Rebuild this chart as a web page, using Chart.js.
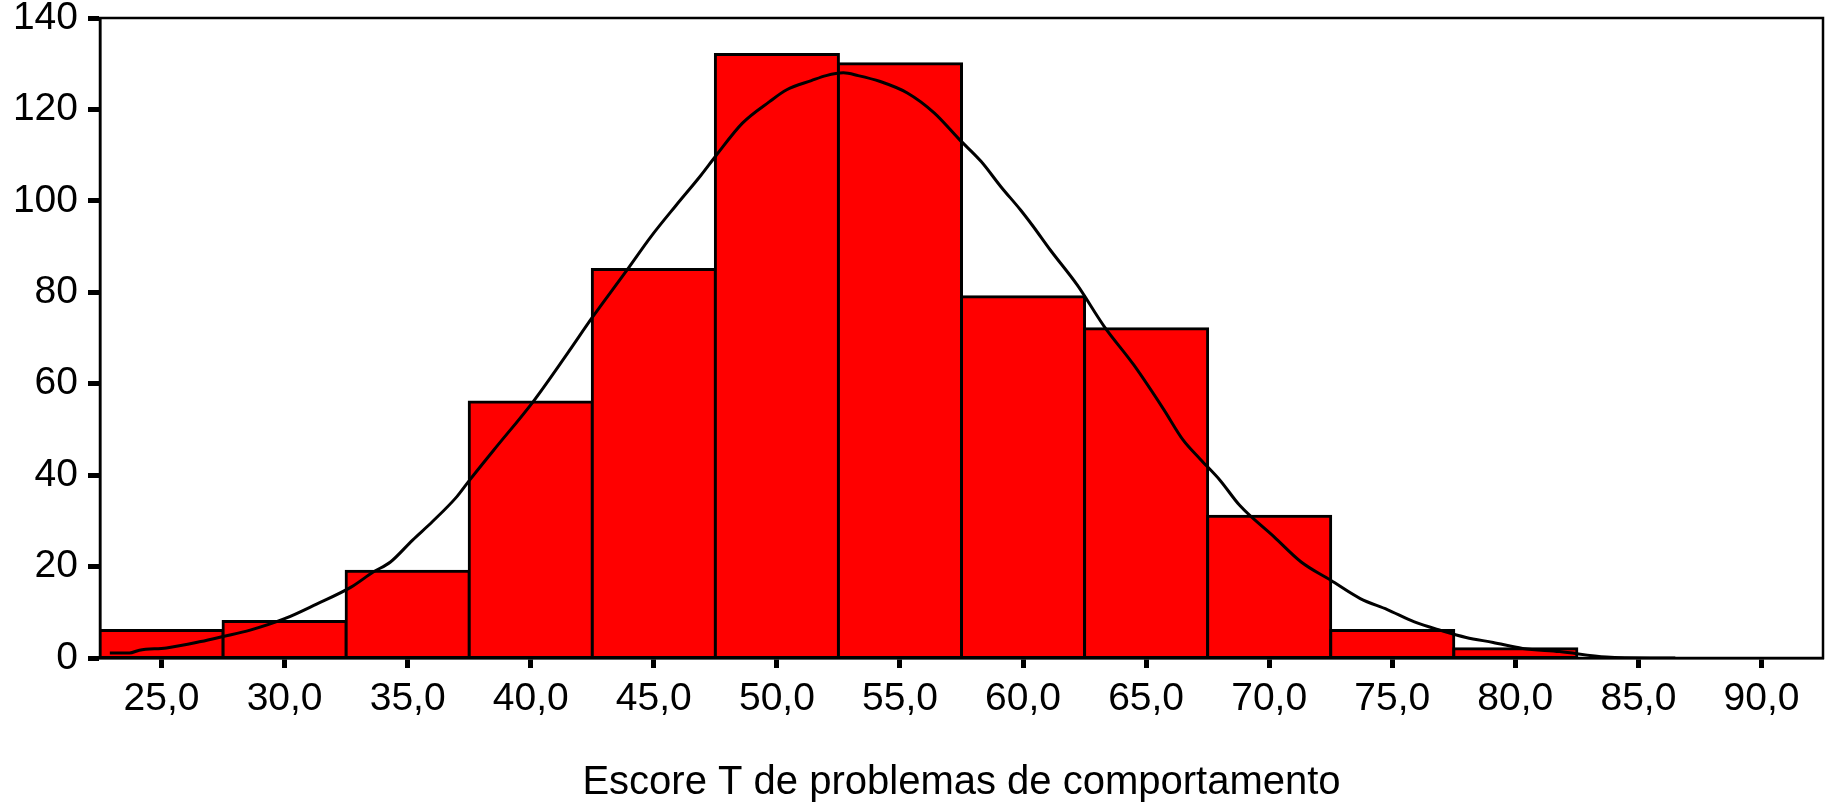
<!DOCTYPE html>
<html><head><meta charset="utf-8">
<script src="https://cdn.jsdelivr.net/npm/chart.js@4"></script>
<style>html,body{margin:0;padding:0;background:#fff}#c{display:block}</style>
</head><body>
<canvas id="c" width="1834" height="805"></canvas>
<script>
// Histogram bins (centres) and frequencies
const binCenters = [25, 30, 35, 40, 45, 50, 55, 60, 65, 70, 75, 80];
const binCounts  = [6, 8, 19, 56, 85, 132, 130, 79, 72, 31, 6, 2];

// Fitted normal curve
const curveX = [22.9, 23.7, 24.1, 25.2, 26.6, 27.5, 28.6, 30.0, 31.3, 32.7, 33.6, 34.3, 35.2, 36.0, 37.0, 37.5, 38.5, 40.1, 41.5, 42.5, 43.9, 44.9, 45.9, 46.9, 47.5, 48.6, 49.7, 50.4, 51.4, 52.0, 52.7, 53.3, 54.2, 55.3, 56.4, 57.4, 58.3, 59.1, 59.9, 60.4, 61.1, 62.2, 63.3, 64.5, 65.7, 66.5, 67.2, 68.0, 68.8, 70.2, 71.3, 72.5, 73.7, 74.8, 75.9, 77.0, 78.0, 79.1, 80.3, 81.8, 83.7, 85.5, 86.5];
const curveY = [1.1, 1.1, 1.7, 2.2, 3.6, 4.7, 6.1, 8.6, 11.8, 15.5, 18.8, 21.0, 25.8, 29.8, 35.3, 38.8, 45.5, 56.1, 66.7, 74.5, 84.8, 92.3, 99.0, 105.5, 109.7, 117.0, 121.7, 124.3, 126.3, 127.4, 128.0, 127.4, 126.1, 123.6, 119.2, 113.5, 108.6, 103.1, 98.0, 94.5, 89.3, 81.6, 72.5, 64.1, 54.5, 47.7, 43.5, 38.9, 33.4, 26.5, 21.0, 17.0, 13.0, 10.6, 7.9, 6.0, 4.5, 3.4, 2.1, 1.4, 0.2, 0, 0];

// Axis ticks
const xTickValues = [25, 30, 35, 40, 45, 50, 55, 60, 65, 70, 75, 80, 85, 90];
const yTickValues = [0, 20, 40, 60, 80, 100, 120, 140];
const xTitle = 'Escore T de problemas de comportamento';

const FONT = "'Liberation Sans', Arial, sans-serif";

const framePlugin = {
  id: 'frame',
  afterDraw(chart) {
    const a = chart.chartArea, ctx = chart.ctx;
    ctx.save();
    ctx.strokeStyle = '#000';
    ctx.lineWidth = 2.5;
    ctx.strokeRect(a.left, a.top, a.right - a.left, a.bottom - a.top);
    ctx.restore();
  }
};

new Chart(document.getElementById('c'), {
  type: 'bar',
  data: {
    datasets: [
      {
        type: 'line',
        data: curveX.map((x, i) => ({x: x, y: curveY[i]})),
        borderColor: '#000',
        borderWidth: 3,
        pointRadius: 0,
        fill: false,
        cubicInterpolationMode: 'monotone',
        order: 0
      },
      {
        type: 'bar',
        data: binCenters.map((x, i) => ({x: x, y: binCounts[i]})),
        backgroundColor: '#ff0000',
        borderColor: '#000',
        borderWidth: 3,
        borderSkipped: false,
        inflateAmount: 1.5,
        barPercentage: 1,
        categoryPercentage: 1,
        order: 1
      }
    ]
  },
  options: {
    responsive: false,
    animation: false,
    devicePixelRatio: 1,
    layout: {padding: {left: 0, right: 11, top: 18, bottom: 0}},
    plugins: {legend: {display: false}, tooltip: {enabled: false}},
    scales: {
      x: {
        type: 'linear',
        min: 22.5, max: 92.5,
        offset: false,
        afterFit(s) { s.height = 147; s.paddingLeft = 0; s.paddingRight = 0; },
        afterBuildTicks(s) { s.ticks = xTickValues.map(v => ({value: v})); },
        grid: {display: true, offset: false, drawOnChartArea: false, drawTicks: true, tickLength: 10, tickWidth: 5, tickColor: '#000'},
        border: {display: true, color: '#000', width: 2.5},
        ticks: {
          color: '#000', padding: 8, maxRotation: 0, autoSkip: false,
          font: {family: FONT, size: 39},
          callback: v => v.toFixed(1).replace('.', ',')
        },
        title: {
          display: true, text: xTitle, color: '#000',
          font: {family: FONT, size: 40, lineHeight: 1.0},
          padding: {top: 0, bottom: 2}
        }
      },
      y: {
        min: 0, max: 140,
        afterFit(s) { s.width = 100; s.paddingTop = 0; s.paddingBottom = 0; },
        afterBuildTicks(s) { s.ticks = yTickValues.map(v => ({value: v})); },
        grid: {display: true, drawOnChartArea: false, drawTicks: true, tickLength: 12, tickWidth: 5, tickColor: '#000'},
        border: {display: true, color: '#000', width: 2.5},
        ticks: {color: '#000', padding: 10, font: {family: FONT, size: 39, lineHeight: 0.9}}
      }
    }
  },
  plugins: [framePlugin]
});
</script>
</body></html>
